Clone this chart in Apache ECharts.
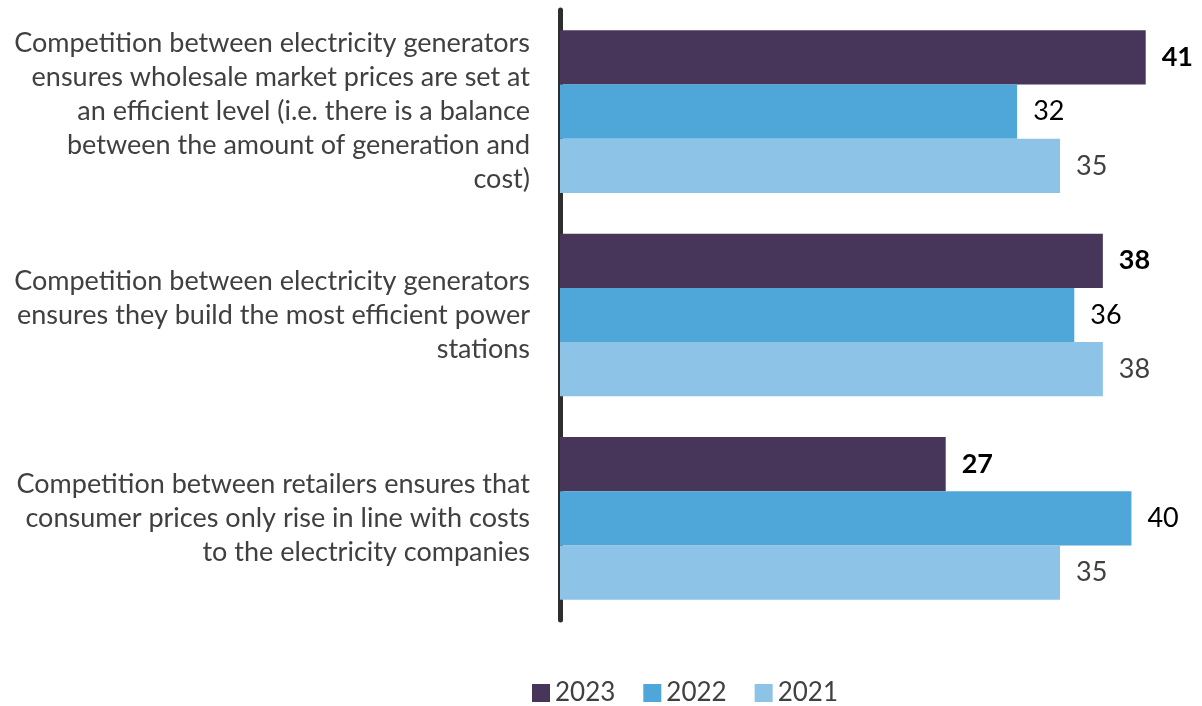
<!DOCTYPE html>
<html><head><meta charset="utf-8">
<script src="https://cdn.jsdelivr.net/npm/echarts@6/dist/echarts.min.js"></script>
<style>html,body{margin:0;padding:0;background:#fff}#c{width:1202px;height:706px}</style>
</head><body><div id="c"></div>
<script>
const categories = [
  "Competition between electricity generators\nensures wholesale market prices are set at\nan efficient level (i.e. there is a balance\nbetween the amount of generation and\ncost)",
  "Competition between electricity generators\nensures they build the most efficient power\nstations",
  "Competition between retailers ensures that\nconsumer prices only rise in line with costs\nto the electricity companies"
];
const seriesNames = ["2023", "2022", "2021"];
const values2023 = [41, 38, 27];
const values2022 = [32, 36, 40];
const values2021 = [35, 38, 35];

const colors = ["#47365a", "#4ea6d9", "#8cc3e6"];
const labelStyles = [
  {color: "#000", fontWeight: "bold"},
  {color: "#000", fontWeight: "normal"},
  {color: "#404040", fontWeight: "normal"}
];
const data = [values2023, values2022, values2021];
const chart = echarts.init(document.getElementById('c'));
chart.setOption({
  animation: false,
  textStyle: {fontFamily: "Lato"},
  grid: {left: 560, width: 600, top: 10, height: 610},
  xAxis: {type: 'value', min: 0, max: 42, show: false},
  yAxis: {
    type: 'category', data: categories, inverse: true,
    axisLine: {show: true, lineStyle: {color: '#2e2e2e', width: 5}},
    axisTick: {show: false},
    axisLabel: {fontSize: 27, lineHeight: 34, color: '#404040', margin: 30, align: 'right', fontFamily: 'Lato'}
  },
  legend: {
    top: 675, left: 527, itemWidth: 18, itemHeight: 18, itemGap: 28,
    icon: 'rect',
    textStyle: {fontSize: 26, color: '#404040', fontFamily: 'Lato'},
    data: seriesNames
  },
  series: seriesNames.map((n, i) => ({
    name: n, type: 'bar', data: data[i],
    barGap: '0%', barCategoryGap: '20%',
    itemStyle: {color: colors[i]},
    label: Object.assign({show: true, position: 'right', distance: 16, fontSize: 27, fontFamily: 'Lato'}, labelStyles[i])
  }))
});
</script></body></html>
